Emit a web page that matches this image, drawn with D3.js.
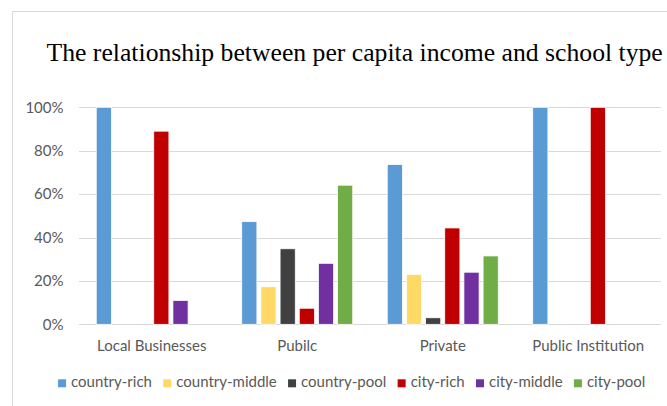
<!DOCTYPE html>
<html>
<head>
<meta charset="utf-8">
<script src="https://cdn.jsdelivr.net/npm/d3@7"></script>
<style>
  html, body { margin: 0; padding: 0; background: #fff; }
  svg { display: block; }
  .tick-label, .cat-label, .legend-label { font-family: Lato, "Open Sans", sans-serif; fill: #595959; }
</style>
</head>
<body>
<svg id="chart" width="667" height="406"></svg>
<script>
// School types along the x axis
const categories = ["Local Businesses", "Pubilc", "Private", "Public Institution"];

// Income groups (one bar per group in every school type)
const seriesNames = ["country-rich", "country-middle", "country-pool", "city-rich", "city-middle", "city-pool"];
const seriesColors = ["#5B9BD5", "#FFD966", "#404040", "#C00000", "#7030A0", "#70AD47"];

// Share of each group, in percent, per school type (same order as categories)
const countryRich   = [100, 47.3, 73.6, 100];
const countryMiddle = [0, 17.3, 23.0, 0];
const countryPool   = [0, 34.8, 3.0, 0];
const cityRich      = [89, 7.4, 44.4, 100];
const cityMiddle    = [11, 28.1, 24.0, 0];
const cityPool      = [0, 64.1, 31.5, 0];

// Y axis ticks
const yTicks = [0, 20, 40, 60, 80, 100];
const yTickLabels = ["0%", "20%", "40%", "60%", "80%", "100%"];

const title = "The relationship between per capita income and school type";

const seriesValues = [countryRich, countryMiddle, countryPool, cityRich, cityMiddle, cityPool];

const labelSize = 15;

const svg = d3.select("#chart");

// chart frame
svg.append("rect")
  .attr("x", 12.5).attr("y", 11.5)
  .attr("width", 700).attr("height", 420)
  .attr("fill", "#fff")
  .attr("stroke", "#d9d9d9")
  .attr("stroke-width", 1);

// title
svg.append("text")
  .attr("x", 46.5).attr("y", 61)
  .attr("font-family", "'Liberation Serif', 'Times New Roman', serif")
  .attr("font-size", 25.7)
  .attr("fill", "#000")
  .text(title);

const plot = { left: 79, right: 661, top: 107.3, bottom: 324.3 };

const x0 = d3.scaleBand()
  .domain(categories)
  .range([plot.left, plot.right])
  .paddingInner(0).paddingOuter(0);

const x1 = d3.scaleBand()
  .domain(seriesNames)
  .range([0, x0.bandwidth()])
  .paddingInner(0.21)
  .paddingOuter(0.9);

const y = d3.scaleLinear()
  .domain([0, 100])
  .range([plot.bottom, plot.top]);

// gridlines
svg.append("g")
  .selectAll("line")
  .data(yTicks)
  .join("line")
  .attr("x1", plot.left).attr("x2", plot.right)
  .attr("y1", d => Math.round(y(d)) + 0.5)
  .attr("y2", d => Math.round(y(d)) + 0.5)
  .attr("stroke", "#d9d9d9")
  .attr("stroke-width", 1);

// y tick labels
svg.append("g")
  .selectAll("text")
  .data(yTicks)
  .join("text")
  .attr("class", "tick-label")
  .attr("x", 63.5)
  .attr("y", d => y(d))
  .attr("dy", "0.35em")
  .attr("text-anchor", "end")
  .attr("font-size", labelSize)
  .text((d, i) => yTickLabels[i]);

// bars
const groups = svg.append("g")
  .selectAll("g")
  .data(categories)
  .join("g")
  .attr("transform", d => `translate(${x0(d)},0)`);

groups.selectAll("rect")
  .data((c, ci) => seriesNames.map((s, si) => ({ s, si, v: seriesValues[si][ci] })))
  .join("rect")
  .filter(d => d.v > 0)
  .attr("x", d => x1(d.s))
  .attr("width", x1.bandwidth())
  .attr("y", d => y(d.v))
  .attr("height", d => y(0) - y(d.v))
  .attr("fill", d => seriesColors[d.si])
  .attr("stroke", "#fff")
  .attr("stroke-width", 0.75);

// category labels
svg.append("g")
  .selectAll("text")
  .data(categories)
  .join("text")
  .attr("class", "cat-label")
  .attr("x", d => x0(d) + x0.bandwidth() / 2)
  .attr("y", 350.7)
  .attr("text-anchor", "middle")
  .attr("font-size", labelSize)
  .text(d => d);

// legend, laid out from measured label widths and centred
const legend = svg.append("g");
const items = legend.selectAll("g")
  .data(seriesNames)
  .join("g");
items.append("rect")
  .attr("width", 8).attr("height", 8)
  .attr("y", 379.3)
  .attr("fill", (d, i) => seriesColors[i]);
items.append("text")
  .attr("class", "legend-label")
  .attr("x", 13)
  .attr("y", 387.3)
  .attr("font-size", labelSize)
  .text(d => d);

let cursor = 0;
const offsets = [];
items.each(function () {
  const w = d3.select(this).select("text").node().getComputedTextLength();
  offsets.push(cursor);
  cursor += 13 + w + 11.3;
});
const total = cursor - 11.3;
const start = 351.7 - total / 2;
items.attr("transform", (d, i) => `translate(${start + offsets[i]},0)`);
</script>
</body>
</html>
